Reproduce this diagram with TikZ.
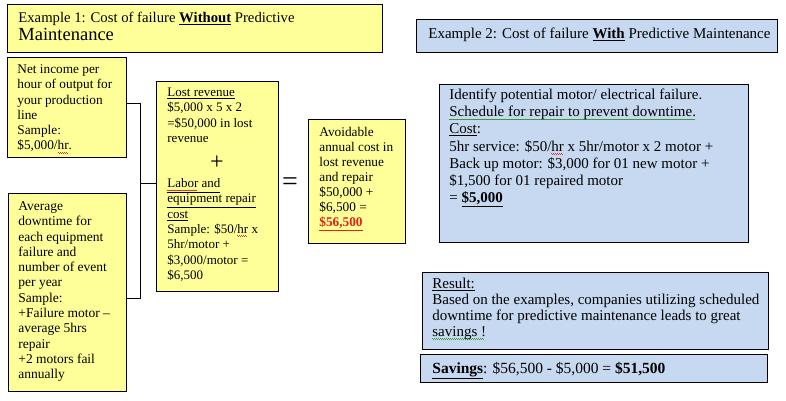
\documentclass[tikz,border=0pt]{standalone}
\usepackage{fontspec}
\setmainfont{Liberation Serif}
\definecolor{ylw}{HTML}{FFFF99}
\definecolor{blu}{HTML}{C6D9F1}
\definecolor{redt}{HTML}{E8201A}
\definecolor{sqg}{HTML}{3C9A3C}
\definecolor{sqr}{HTML}{E03030}
% squiggly underline: #1 colour, #2 text
\newcommand\sqline[2]{\leavevmode\setbox0\hbox{#2}\rlap{\hbox to \wd0{\color{#1}\leaders\hbox to 2pt{\raisebox{-2.6pt}{\rule{1pt}{0.7pt}}\raisebox{-3.4pt}{\rule{1pt}{0.7pt}}}\hfill}}\box0\relax}
\newcommand\ul[1]{\underline{#1}}
% #1 width, #2 height, #3 left pad, #4 first baseline, #5 {size}{skip}, #6 text
\newcommand\tb[6]{\begin{minipage}[t][#2][t]{#1}%
\fontsize#5\selectfont
\vspace*{\dimexpr#4-0.7\baselineskip\relax}%
\hspace*{#3}\parbox[t]{\dimexpr#1-#3\relax}{\raggedright\strut #6}%
\end{minipage}}
\tikzset{
  ybox/.style={draw, line width=0.8pt, fill=ylw, inner sep=0pt, anchor=north west},
  bbox/.style={draw, line width=0.8pt, fill=blu, inner sep=0pt, anchor=north west},
  link/.style={draw, line width=0.8pt},
}
\begin{document}
\begin{tikzpicture}[x=1pt,y=-1pt]
\useasboundingbox (0,0) rectangle (786,400);

\node[ybox] (ex1) at (7,4) {\tb{375pt}{48pt}{11pt}{18pt}{{14.7}{18}}{Example 1: Cost of failure \ul{\textbf{Without}} Predictive\\ {\fontsize{18.5}{18}\selectfont Maintenance}}};

\node[bbox] (ex2) at (416,19) {\tb{361pt}{33pt}{12pt}{19pt}{{15}{17}}{Example 2: Cost of failure \ul{\textbf{With}} Predictive Maintenance}};

\node[ybox] (net) at (7,57) {\tb{119pt}{100pt}{10pt}{16pt}{{13.3}{15.3}}{Net income per\\ hour of output for\\ your production\\ line\\ Sample:\\ \$5,000/\sqline{sqr}{hr}.}};

\node[ybox] (avg) at (8,193) {\tb{118pt}{198pt}{10pt}{17pt}{{13.5}{15.3}}{Average\\ downtime for\\ each equipment\\ failure and\\ number of event\\ per year\\ Sample:\\ +Failure motor –\\ average 5hrs\\ repair\\ +2 motors fail\\ annually}};

\node[ybox] (lost) at (156,81) {\tb{122pt}{210pt}{11pt}{15pt}{{13}{15.3}}{\ul{Lost revenue}\\ \$5,000 x 5 x 2\\ =\$50,000 in lost\\ revenue\\[30pt] \ul{\sqline{sqr}{Labor} and}\\ \ul{equipment repair}\\ \ul{cost}\\ Sample: \$50/\sqline{sqr}{hr} x\\ 5hr/motor +\\ \$3,000/motor =\\ \$6,500}};

\node (plus) at (217,163) {\fontsize{24}{24}\selectfont +};

\node (eq) at (290,184) {\fontsize{28}{28}\selectfont =};

\node[ybox] (avoid) at (308,119) {\tb{97pt}{124pt}{11pt}{17pt}{{13.3}{15}}{Avoidable\\ annual cost in\\ lost revenue\\ and repair\\ \$50,000 +\\ \$6,500 =\\ \textcolor{redt}{\ul{\textbf{\$56,500}}}}};

\node[bbox] (ident) at (439,84) {\tb{309pt}{158pt}{10pt}{15pt}{{15}{17.2}}{Identify potential motor/ electrical failure.\\ \sqline{sqg}{Schedule for repair to prevent downtime.}\\ \ul{Cost}:\\ 5hr service: \$50/\sqline{sqr}{hr} x 5hr/motor x 2 motor +\\ Back up motor: \$3,000 for 01 new motor +\\ \$1,500 for 01 repaired motor\\ = \ul{\textbf{\$5,000}}}};

\node[bbox] (result) at (422,272) {\tb{346pt}{77pt}{10pt}{16pt}{{15}{16}}{\ul{Result:}\\ Based on the examples, companies utilizing scheduled\\ downtime for predictive maintenance leads to great\\ \sqline{sqg}{savings !}}};

\node[bbox] (save) at (420,354) {\tb{347pt}{28pt}{12pt}{19pt}{{15.5}{17}}{\ul{\textbf{Savings}}: \$56,500 - \$5,000 = \textbf{\$51,500}}};

\coordinate (jn) at (140,183);
\draw[link] ([yshift=4pt]net.east) -| (jn);
\draw[link] ([yshift=-6pt]avg.east) -| (jn);
\draw[link] (jn) -- (lost.west |- jn);
\end{tikzpicture}
\end{document}
